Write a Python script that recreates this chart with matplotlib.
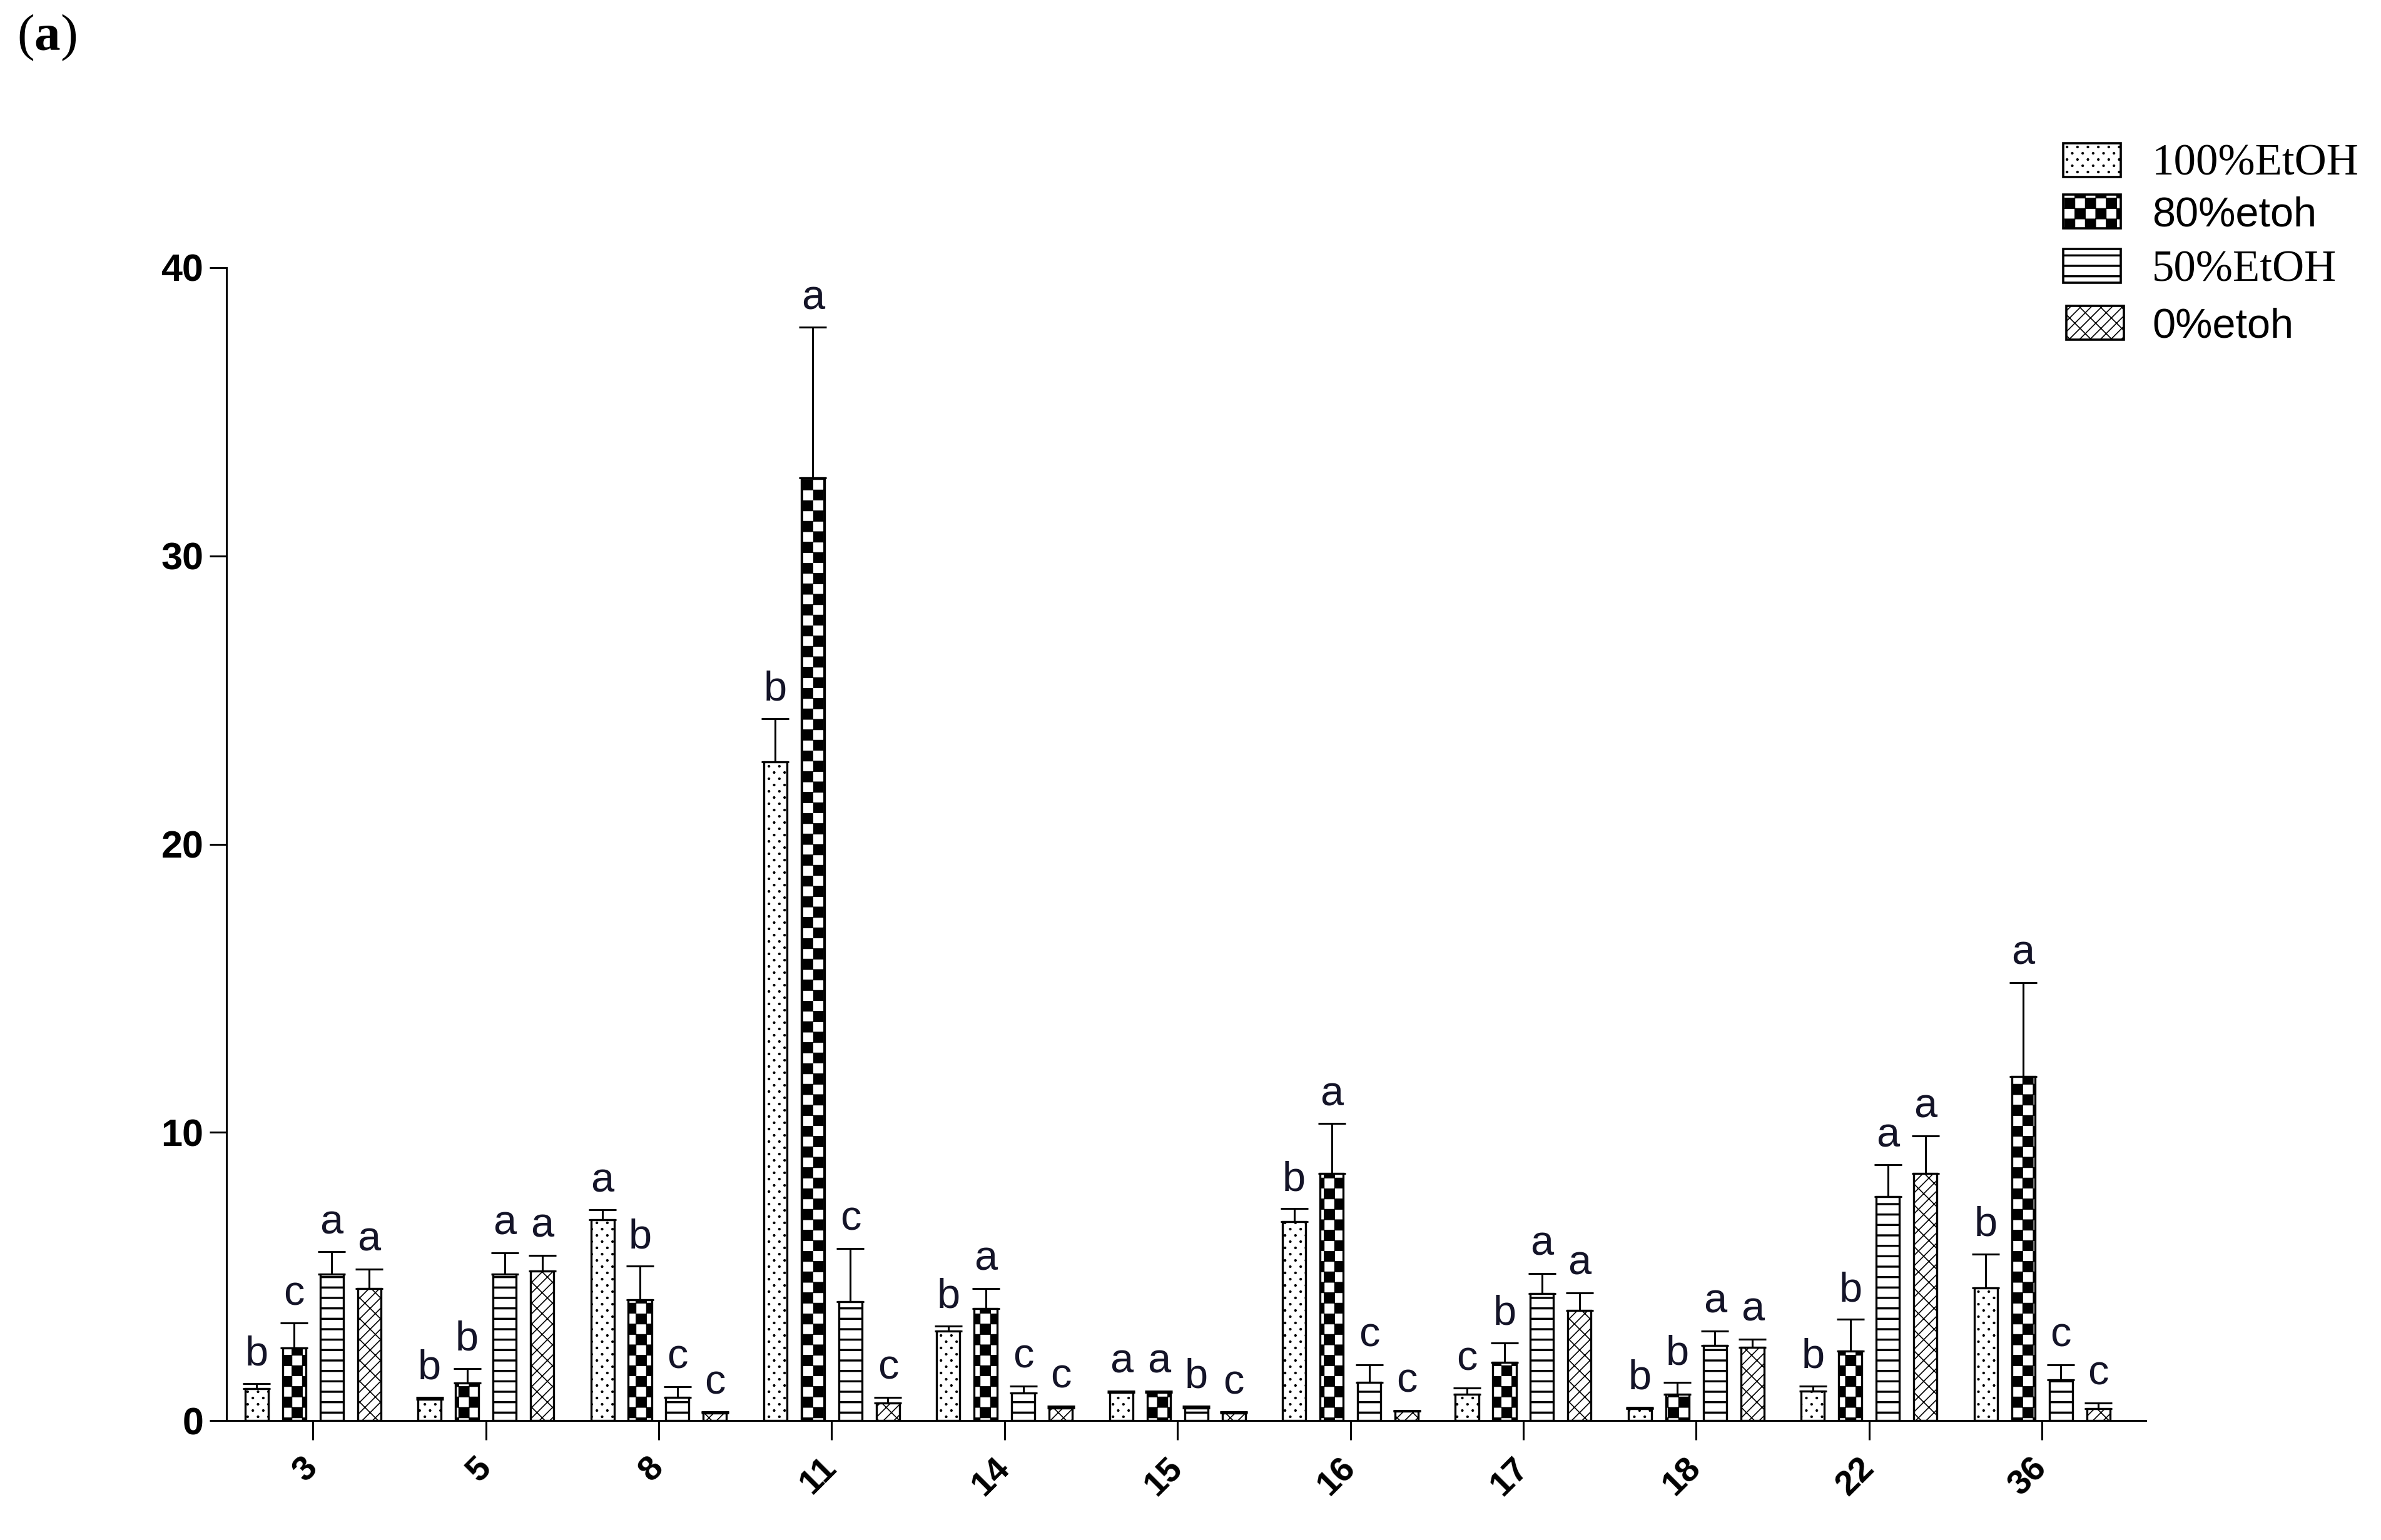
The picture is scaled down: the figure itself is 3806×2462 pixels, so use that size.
import numpy as np
import matplotlib
matplotlib.use("Agg")
import matplotlib.pyplot as plt
import matplotlib.hatch as mhatch
from matplotlib.path import Path
from matplotlib.patches import Rectangle

# ---- data ----
compounds = ["3", "5", "8", "11", "14", "15", "16", "17", "18", "22", "36"]
series = ["100%EtOH", "80%etoh", "50%EtOH", "0%etoh"]

mean_100 = [1.10, 0.73, 6.96, 22.85, 3.11, 0.98, 6.90, 0.91, 0.41, 1.02, 4.60]
mean_80 = [2.51, 1.31, 4.18, 32.70, 3.89, 0.98, 8.57, 2.01, 0.91, 2.41, 11.94]
mean_50 = [5.07, 5.07, 0.80, 4.12, 0.95, 0.44, 1.32, 4.40, 2.61, 7.77, 1.42]
mean_0 = [4.59, 5.18, 0.25, 0.61, 0.44, 0.27, 0.33, 3.81, 2.55, 8.57, 0.41]

sd_100 = [0.18, 0.07, 0.35, 1.50, 0.17, 0.04, 0.45, 0.21, 0.05, 0.18, 1.18]
sd_80 = [0.87, 0.49, 1.17, 5.23, 0.69, 0.04, 1.73, 0.68, 0.41, 1.10, 3.26]
sd_50 = [0.78, 0.75, 0.37, 1.85, 0.25, 0.06, 0.62, 0.70, 0.50, 1.10, 0.52]
sd_0 = [0.66, 0.56, 0.05, 0.19, 0.06, 0.03, 0.02, 0.62, 0.28, 1.31, 0.20]

let_100 = ["b", "b", "a", "b", "b", "a", "b", "c", "b", "b", "b"]
let_80 = ["c", "b", "b", "a", "a", "a", "a", "b", "b", "b", "a"]
let_50 = ["a", "a", "c", "c", "c", "b", "c", "a", "a", "a", "c"]
let_0 = ["a", "a", "c", "c", "c", "c", "c", "a", "a", "a", "c"]

means = [mean_100, mean_80, mean_50, mean_0]
sds = [sd_100, sd_80, sd_50, sd_0]
letters = [let_100, let_80, let_50, let_0]


# checkerboard hatch, used in place of the '*' (stars) pattern
class CheckerHatch(mhatch.HatchPatternBase):
    def __init__(self, hatch, density):
        self.n = hatch.count('*') * density
        self.num_vertices = (self.n * self.n // 2) * 5

    def set_vertices_and_codes(self, vertices, codes):
        s = 1.0 / self.n
        k = 0
        for i in range(self.n):
            for j in range(self.n):
                if (i + j) % 2 == 0:
                    x, y = i * s, j * s
                    vertices[k:k + 5] = [(x, y), (x + s, y), (x + s, y + s), (x, y + s), (x, y)]
                    codes[k:k + 5] = [Path.MOVETO, Path.LINETO, Path.LINETO, Path.LINETO, Path.CLOSEPOLY]
                    k += 5


# staggered stipple dots, used in place of the 'O' (large circles) pattern
class DotHatch(mhatch.HatchPatternBase):
    filled = True

    def __init__(self, hatch, density):
        self.ncol = hatch.count('O') * density
        self.nrow = self.ncol * 5 // 3
        circ = Path.unit_circle()
        self.cv = circ.vertices
        self.cc = circ.codes
        self.num_vertices = self.ncol * self.nrow * len(self.cv)

    def set_vertices_and_codes(self, vertices, codes):
        L = len(self.cv)
        k = 0
        for row in range(self.nrow):
            y = (row + 0.5) / self.nrow
            for c in range(self.ncol):
                xx = (c + 0.25 + 0.5 * (row % 2)) / self.ncol
                vertices[k:k + L] = self.cv * 0.014 + (xx, y)
                codes[k:k + L] = self.cc
                k += L


mhatch._hatch_types[mhatch._hatch_types.index(mhatch.Stars)] = CheckerHatch
mhatch._hatch_types[mhatch._hatch_types.index(mhatch.LargeCircles)] = DotHatch

plt.rcParams['mathtext.fontset'] = 'custom'
plt.rcParams['mathtext.rm'] = 'Liberation Serif'
plt.rcParams['mathtext.bf'] = 'Liberation Serif:bold'

hatches = ['O', '*', '-', '//\\']
hatch_lw = [1.0, 0.8, 2.4, 1.2]
label_fonts = ["Liberation Serif", "Liberation Sans", "Liberation Serif", "Liberation Sans"]
label_sizes = [51, 48, 51, 48]

W, H = 3806, 2462
fig = plt.figure(figsize=(W / 100, H / 100), dpi=100)
ax = fig.add_axes([362 / W, 191 / H, (3430 - 362) / W, (2271 - 428) / H])

x = np.arange(len(compounds))
step = 0.217
width = 0.134
letter_color = '#141428'

for i in range(4):
    plt.rcParams['hatch.linewidth'] = hatch_lw[i]
    pos = x + (i - 1.5) * step
    bars = ax.bar(pos, means[i], width, facecolor='white', edgecolor='black',
                  linewidth=2.4, hatch=hatches[i], zorder=2)
    for b in bars:
        if hasattr(b, 'set_hatch_linewidth'):
            b.set_hatch_linewidth(hatch_lw[i])
    ax.errorbar(pos, means[i], yerr=[np.zeros(len(x)), sds[i]], fmt='none',
                ecolor='black', elinewidth=2.2, capsize=16, capthick=2.2, zorder=3)
    for j in range(len(x)):
        ax.annotate(letters[i][j], xy=(pos[j], means[i][j] + sds[i][j]),
                    xytext=(0, 21), textcoords='offset points', ha='center',
                    va='baseline', fontsize=48, family='Liberation Sans',
                    color=letter_color, zorder=4)

ax.set_xlim(-0.5, 10.6)
ax.set_ylim(0, 40)
ax.set_yticks([0, 10, 20, 30, 40])
ax.set_xticks(x)
ax.set_xticklabels(compounds, rotation=45, ha='right', va='center', rotation_mode='anchor')
for lab in ax.get_xticklabels():
    lab.set_fontsize(40)
    lab.set_fontweight('bold')
    lab.set_family('Liberation Sans')
for lab in ax.get_yticklabels():
    lab.set_fontsize(44)
    lab.set_fontweight('bold')
    lab.set_family('Liberation Sans')
ax.tick_params(axis='y', length=19.4, width=2.2, pad=7)
ax.tick_params(axis='x', length=22, width=2.2, pad=27)
for s in ['top', 'right']:
    ax.spines[s].set_visible(False)
for s in ['left', 'bottom']:
    ax.spines[s].set_linewidth(2.2)

# legend drawn in figure pixels
row_centers = [256, 338, 425, 516]
patch_left = [3298, 3298, 3298, 3303]
for i in range(4):
    plt.rcParams['hatch.linewidth'] = hatch_lw[i]
    cy = row_centers[i]
    r = Rectangle((patch_left[i] / W, (H - cy - 27) / H), 92 / W, 54 / H,
                  transform=fig.transFigure, facecolor='white', edgecolor='black',
                  linewidth=2.6, hatch=hatches[i])
    if hasattr(r, 'set_hatch_linewidth'):
        r.set_hatch_linewidth(hatch_lw[i])
    fig.add_artist(r)
    fig.text(3440 / W, (H - cy - 24) / H, series[i], fontsize=label_sizes[i],
             family=label_fonts[i], va='baseline', ha='left')

fig.text(27 / W, (H - 80) / H, r"($\mathbf{a}$)", fontsize=60, family='Liberation Serif',
         va='baseline', ha='left')

fig.savefig("out.png", dpi=100)
